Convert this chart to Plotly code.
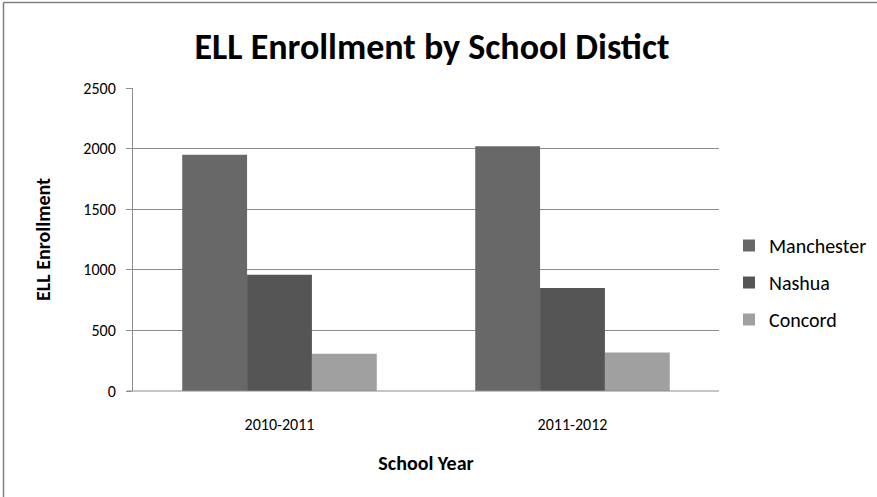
import plotly.graph_objects as go

years = ["2010-2011", "2011-2012"]
districts = ["Manchester", "Nashua", "Concord"]
manchester = [1950, 2020]
nashua = [960, 850]
concord = [307, 318]
series_values = [manchester, nashua, concord]
colors = ["#686868", "#555555", "#a0a0a0"]
y_ticks = [0, 500, 1000, 1500, 2000, 2500]

W, H = 877, 497
ml, mr, mt, mb = 133, 158, 88, 106

FONT = "Carlito, Calibri, Lato, 'Open Sans', sans-serif"
TICK = 16
LBL = 20

fig = go.Figure()
for name, vals, col in zip(districts, series_values, colors):
    fig.add_trace(go.Bar(
        x=years, y=vals, name=name, legendgroup=name,
        marker=dict(color=col, line=dict(color=col, width=0)),
    ))

pw = W - ml - mr
ph = H - mt - mb

fig.update_layout(
    width=W, height=H,
    margin=dict(l=ml, r=mr, t=mt, b=mb, autoexpand=False),
    paper_bgcolor="white", plot_bgcolor="white",
    barmode="group", bargap=0.336, bargroupgap=0,
    font=dict(family=FONT, color="#000000", size=TICK),
    title=dict(text="<b>ELL Enrollment by School Distict</b>",
               x=432 / W, xref="container", xanchor="center",
               y=1 - 46 / H, yref="container", yanchor="middle",
               font=dict(size=36, family=FONT, color="#000000")),
    xaxis=dict(
        showline=False, ticks="", showgrid=False,
        tickfont=dict(size=TICK, family=FONT, color="#000000"),
        ticklabelstandoff=22,
        title=dict(text="<b>School Year</b>", font=dict(size=LBL, family=FONT), standoff=22),
    ),
    yaxis=dict(
        range=[0, 2500], tickvals=y_ticks, ticktext=[str(v) for v in y_ticks],
        showgrid=True, gridcolor="#8c8c8c", gridwidth=1,
        showline=True, linecolor="#8c8c8c", linewidth=1,
        ticks="outside", ticklen=6, tickcolor="#8c8c8c",
        tickfont=dict(size=TICK, family=FONT, color="#000000"),
        ticklabelstandoff=7,
        zeroline=False,
        title=dict(text="<b>ELL Enrollment</b>", font=dict(size=LBL, family=FONT), standoff=27),
    ),
    legend=dict(
        x=(729 - ml) / pw, xanchor="left",
        y=(H - mb - 226) / ph, yanchor="top",
        font=dict(size=LBL, family=FONT, color="#000000"),
        tracegroupgap=8, itemwidth=30,
        bgcolor="rgba(0,0,0,0)",
    ),
    showlegend=True,
)

# bottom axis line extending slightly left (like Excel's tick)
fig.add_shape(type="line", xref="paper", yref="paper",
              x0=(127 - ml) / pw, x1=1, y0=0, y1=0,
              line=dict(color="#8c8c8c", width=1))
# chart outer border (left and top edges visible)
fig.add_shape(type="line", xref="paper", yref="paper",
              x0=(3.5 - ml) / pw, x1=(3.5 - ml) / pw,
              y0=(H - mb - 2.5) / ph, y1=(H - mb - H) / ph,
              line=dict(color="#7f7f7f", width=1.5))
fig.add_shape(type="line", xref="paper", yref="paper",
              x0=(3.5 - ml) / pw, x1=(W - ml) / pw,
              y0=(H - mb - 2.5) / ph, y1=(H - mb - 2.5) / ph,
              line=dict(color="#7f7f7f", width=1.5))

fig.write_html("out.html",
               config={"displayModeBar": False},
               post_script="document.body.style.margin='0';document.body.style.padding='0';")
